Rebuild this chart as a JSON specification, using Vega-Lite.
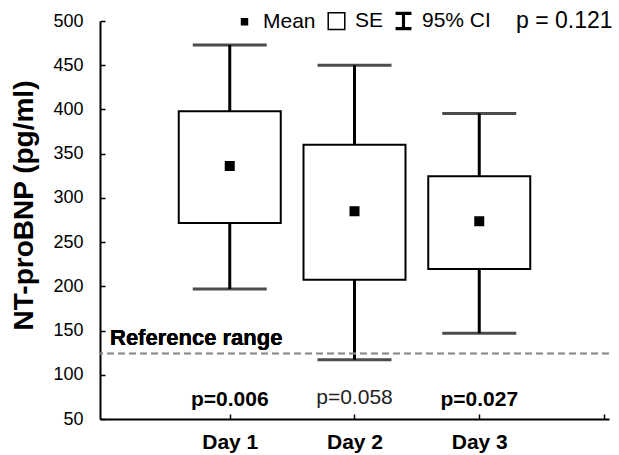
{
  "$schema": "https://vega.github.io/schema/vega-lite/v6.json",
  "width": 509,
  "height": 398,
  "autosize": {"type": "none"},
  "padding": {"left": 100, "top": 21, "right": 10, "bottom": 36},
  "background": "white",
  "config": {
    "view": {"stroke": null},
    "font": "Liberation Sans",
    "axis": {"grid": false, "domainColor": "black", "tickColor": "black", "labelColor": "black", "titleColor": "black", "labelFont": "Liberation Sans", "titleFont": "Liberation Sans"},
    "legend": {
      "orient": "none", "legendX": 134, "legendY": -11, "direction": "horizontal",
      "titleOrient": "right", "titlePadding": 25, "titleAnchor": "middle", "titleBaseline": "middle",
      "titleFontSize": 23, "titleFontWeight": "normal", "titleColor": "black",
      "labelFontSize": 21, "labelColor": "black", "labelOffset": 8, "columnPadding": 9,
      "symbolSize": 324, "symbolStrokeColor": "black", "symbolStrokeWidth": 1.5, "symbolOpacity": 1
    }
  },
  "data": {
    "values": [
      {"day": 1, "mean": 336, "se_lo": 271.5, "se_hi": 398, "ci_lo": 197, "ci_hi": 473, "p": "p=0.006", "sig": true},
      {"day": 2, "mean": 285, "se_lo": 207.5, "se_hi": 360, "ci_lo": 117, "ci_hi": 450, "p": "p=0.058", "sig": false},
      {"day": 3, "mean": 273.5, "se_lo": 219.5, "se_hi": 324.5, "ci_lo": 147, "ci_hi": 395.5, "p": "p=0.027", "sig": true}
    ]
  },
  "encoding": {
    "x": {
      "field": "day", "type": "quantitative",
      "scale": {"domain": [0, 4], "nice": false, "zero": false},
      "axis": {
        "title": null, "values": [1, 2, 3, 4],
        "labelExpr": "datum.value < 4 ? 'Day ' + datum.value : ''",
        "labelFontSize": 21, "labelFontWeight": "bold",
        "domainWidth": 2, "tickSize": -5, "tickWidth": 1.5, "labelPadding": 17
      }
    }
  },
  "layer": [
    {
      "mark": {"type": "rule", "color": "black", "strokeWidth": 3},
      "encoding": {
        "y": {
          "field": "ci_lo", "type": "quantitative",
          "scale": {"domain": [50, 500], "nice": false, "zero": false},
          "axis": {
            "title": "NT-proBNP (pg/ml)", "titleFontSize": 28, "titleFontWeight": "bold",
            "values": [50, 100, 150, 200, 250, 300, 350, 400, 450, 500],
            "labelFontSize": 18, "labelPadding": 22, "domainWidth": 2,
            "tickSize": -5, "tickWidth": 1.5,
            "titleX": -76, "titleY": 184, "titleBaseline": "middle", "titleAngle": -90, "titleAlign": "center"
          }
        },
        "y2": {"field": "ci_hi"}
      }
    },
    {
      "mark": {"type": "tick", "color": "black", "orient": "horizontal", "size": 74, "thickness": 3},
      "encoding": {"y": {"field": "ci_hi", "type": "quantitative"}}
    },
    {
      "mark": {"type": "tick", "color": "black", "orient": "horizontal", "size": 74, "thickness": 3},
      "encoding": {"y": {"field": "ci_lo", "type": "quantitative"}}
    },
    {
      "mark": {"type": "bar", "fill": "white", "stroke": "black", "strokeWidth": 2, "size": 102},
      "encoding": {
        "y": {"field": "se_lo", "type": "quantitative"},
        "y2": {"field": "se_hi"}
      }
    },
    {
      "mark": {"type": "point", "filled": true, "opacity": 1, "stroke": "black", "strokeWidth": 1.5, "size": 664},
      "encoding": {
        "y": {"field": "mean", "type": "quantitative"},
        "shape": {
          "datum": "Mean",
          "scale": {"domain": ["Mean", "SE", "95% CI"], "range": ["M-0.33,-0.33H0.33V0.33H-0.33Z", "M-0.92,-0.92H0.92V0.92H-0.92Z", "M-0.8,-0.95H0.8V-0.75H0.09V0.75H0.8V0.95H-0.8V0.75H-0.09V-0.75H-0.8Z"]},
          "legend": {
            "title": "p = 0.121",
            "encode": {"symbols": {"update": {"stroke": {"value": "black"}, "strokeWidth": {"value": 1.5}, "opacity": {"value": 1}, "size": {"value": 324}}}}
          }
        },
        "fill": {
          "datum": "Mean",
          "scale": {"domain": ["Mean", "SE", "95% CI"], "range": ["black", "white", "black"]},
          "legend": {
            "title": "p = 0.121",
            "encode": {"symbols": {"update": {"stroke": {"value": "black"}, "strokeWidth": {"value": 1.5}, "opacity": {"value": 1}, "size": {"value": 324}}}}
          }
        }
      }
    },
    {
      "mark": {"type": "rule", "color": "#8a8a8a", "strokeWidth": 1.5, "strokeDash": [7, 4]},
      "encoding": {"y": {"datum": 124, "type": "quantitative"}, "x": null}
    },
    {
      "mark": {"type": "text", "align": "left", "baseline": "alphabetic", "fontWeight": "bold", "fontSize": 22, "color": "black", "dx": 5, "dy": -9},
      "encoding": {"y": {"datum": 124, "type": "quantitative"}, "x": {"datum": 0, "type": "quantitative"}, "text": {"value": "Reference range"}}
    },
    {
      "transform": [{"filter": "datum.sig"}],
      "mark": {"type": "text", "baseline": "alphabetic", "fontWeight": "bold", "fontSize": 21, "color": "black"},
      "encoding": {"y": {"datum": 65, "type": "quantitative"}, "text": {"field": "p"}}
    },
    {
      "transform": [{"filter": "!datum.sig"}],
      "mark": {"type": "text", "baseline": "alphabetic", "fontWeight": "normal", "fontSize": 21, "color": "#222"},
      "encoding": {"y": {"datum": 67, "type": "quantitative"}, "text": {"field": "p"}}
    }
  ]
}
